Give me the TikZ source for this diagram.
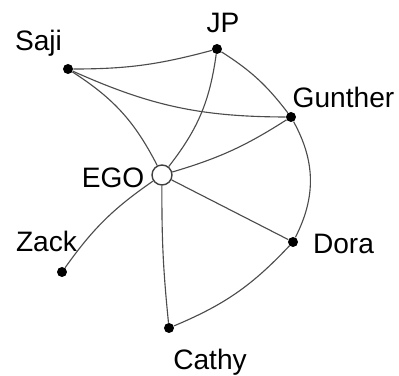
\documentclass[tikz,border=0pt]{standalone}
\usepackage{fontspec}
\setmainfont{Liberation Sans}
\usepackage{xcolor}
\usetikzlibrary{positioning}

\begin{document}
\begin{tikzpicture}[
    person/.style={circle, fill=black, inner sep=0pt, minimum size=0.25cm},
    ego/.style={circle, draw=black!75, fill=white, line width=1pt, inner sep=0pt, minimum size=0.5cm},
    nametag/.style={anchor=base, inner sep=0pt, font=\fontsize{20}{24}\selectfont},
    tie/.style={black!70, line width=0.8pt}
]
\useasboundingbox (0,0) rectangle (9.975,9.4);

% the people
\node[ego] (ego) at (4.05,5.025) {};
\node[person] (saji) at (1.70,7.675) {};
\node[person] (jp) at (5.425,8.175) {};
\node[person] (gunther) at (7.275,6.475) {};
\node[person] (zack) at (1.55,2.6) {};
\node[person] (cathy) at (4.225,1.2) {};
\node[person] (dora) at (7.325,3.35) {};

% their names
\node[nametag] (lsaji) at (0.9625,8.15) {Saji};
\node[nametag] (ljp) at (5.575,8.575) {JP};
\node[nametag] (lgunther) at (8.5875,6.725) {Gunther};
\node[nametag] (lego) at (2.825,4.72) {EGO};
\node[nametag] (lzack) at (1.1625,3.1) {Zack};
\node[nametag] (ldora) at (8.5875,3.075) {Dora};
\node[nametag] (lcathy) at (5.25,0.15) {Cathy};

% ties
\draw[tie] (saji) to[out=0, in=195] (jp);
\draw[tie] (saji) to[bend right=12] (gunther);
\draw[tie] (saji) to[bend left=15] (ego);
\draw[tie] (jp) to[bend left=15] (ego);
\draw[tie] (jp) to[bend left=10] (gunther);
\draw[tie] (ego) to[bend right=8] (gunther);
\draw[tie] (gunther) to[bend left=28] (dora);
\draw[tie] (ego) -- (dora);
\draw[tie] (dora) to[bend left=12] (cathy);
\draw[tie] (ego) to[bend right=3] (cathy);
\draw[tie] (ego) to[bend right=10] (zack);

\end{tikzpicture}
\end{document}
